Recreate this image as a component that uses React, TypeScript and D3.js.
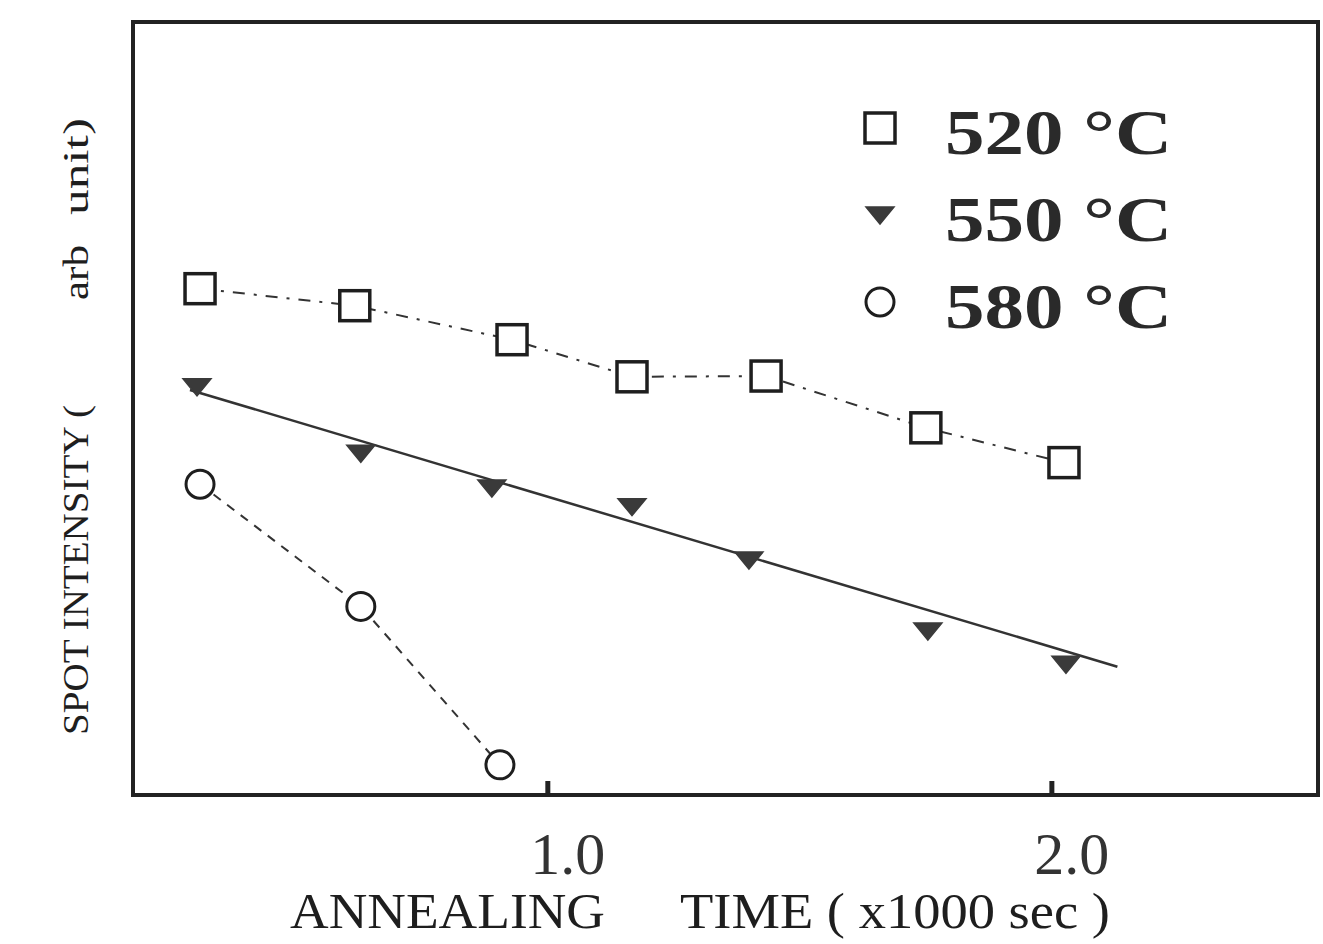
import React from "react";
import { scaleLinear, line } from "d3";

const W = 1323;
const H = 944;
const PLOT = { left: 133, right: 1318, top: 22, bottom: 795 };
const INK = "#1e1e1e";

// annealing time (x1000 sec) and spot intensity (arb. unit)
const t520 = [0.31, 0.617, 0.929, 1.167, 1.433, 1.75, 2.024];
const i520 = [6.55, 6.33, 5.89, 5.41, 5.42, 4.75, 4.3];
const t550 = [0.304, 0.629, 0.889, 1.167, 1.399, 1.754, 2.028];
const i550 = [5.28, 4.42, 3.97, 3.73, 3.04, 2.12, 1.69];
const t580 = [0.31, 0.629, 0.905];
const i580 = [4.02, 2.44, 0.39];
// hand-drawn fit for 550 °C
const fitT550 = [0.29, 2.13];
const fitI550 = [5.24, 1.66];

const xTicks = [1.0, 2.0];
const legendLabels = ["520 °C", "550 °C", "580 °C"];

const x = scaleLinear().domain([0.177, 2.528]).range([PLOT.left, PLOT.right]);
const y = scaleLinear().domain([0, 10]).range([PLOT.bottom, PLOT.top]);

const zip = (a: number[], b: number[]) => a.map((v, i) => [v, b[i]] as [number, number]);
const path = line<[number, number]>()
  .x((d) => x(d[0]))
  .y((d) => y(d[1]));

const Square = ({ cx, cy }: { cx: number; cy: number }) => (
  <rect x={cx - 15} y={cy - 15} width={30} height={30} fill="white" stroke={INK} strokeWidth={3.5} />
);
const Tri = ({ cx, cy }: { cx: number; cy: number }) => (
  <path d={`M${cx - 14},${cy - 8} L${cx + 14},${cy - 8} L${cx},${cy + 9} Z`} fill="#3a3a3a" stroke="#3a3a3a" strokeWidth={1.5} />
);
const Circ = ({ cx, cy }: { cx: number; cy: number }) => (
  <circle cx={cx} cy={cy} r={14} fill="white" stroke={INK} strokeWidth={3} />
);

export default function App() {
  const serif = "'Liberation Serif', 'DejaVu Serif', serif";
  return (
    <svg width={W} height={H} style={{ position: "absolute", left: 0, top: 0, background: "white" }}>
      {/* lines */}
      <path d={path(zip(t520, i520)) || ""} fill="none" stroke="#333" strokeWidth={2} strokeDasharray="12,9,3,9" />
      <path d={path(zip(fitT550, fitI550)) || ""} fill="none" stroke="#333" strokeWidth={2.5} />
      <path d={path(zip(t580, i580)) || ""} fill="none" stroke="#333" strokeWidth={2} strokeDasharray="9,8" />

      {/* markers */}
      {zip(t520, i520).map((d, i) => (
        <Square key={"s" + i} cx={x(d[0])} cy={y(d[1])} />
      ))}
      {zip(t550, i550).map((d, i) => (
        <Tri key={"t" + i} cx={x(d[0])} cy={y(d[1])} />
      ))}
      {zip(t580, i580).map((d, i) => (
        <Circ key={"c" + i} cx={x(d[0])} cy={y(d[1])} />
      ))}

      {/* frame */}
      <rect
        x={PLOT.left}
        y={PLOT.top}
        width={PLOT.right - PLOT.left}
        height={PLOT.bottom - PLOT.top}
        fill="none"
        stroke="#222"
        strokeWidth={4}
      />

      {/* x ticks */}
      {xTicks.map((t) => (
        <g key={t}>
          <line x1={x(t)} x2={x(t)} y1={PLOT.bottom} y2={PLOT.bottom - 14} stroke="#222" strokeWidth={5} />
          <text x={x(t) + 20} y={874} textAnchor="middle" fontFamily={serif} fontSize={60} fill="#333">
            {t.toFixed(1)}
          </text>
        </g>
      ))}

      {/* axis titles */}
      <text x={290} y={928} fontFamily={serif} fontSize={51} fill={INK} textLength={315} lengthAdjust="spacingAndGlyphs">
        ANNEALING
      </text>
      <text x={680} y={928} fontFamily={serif} fontSize={51} fill={INK} textLength={430} lengthAdjust="spacingAndGlyphs">
        TIME ( x1000 sec )
      </text>
      <g transform="translate(88,735) rotate(-90)">
        <text x={0} y={0} fontFamily={serif} fontSize={36} fill={INK} textLength={330} lengthAdjust="spacingAndGlyphs">
          SPOT INTENSITY (
        </text>
        <text x={435} y={0} fontFamily={serif} fontSize={36} fill={INK} textLength={55} lengthAdjust="spacingAndGlyphs">
          arb
        </text>
        <text x={520} y={0} fontFamily={serif} fontSize={36} fill={INK} textLength={97} lengthAdjust="spacingAndGlyphs">
          unit)
        </text>
      </g>

      {/* legend */}
      {legendLabels.map((lab, i) => {
        const cy = 128 + i * 87;
        return (
          <g key={lab}>
            {i === 0 && <Square cx={880} cy={cy} />}
            {i === 1 && <Tri cx={880} cy={cy} />}
            {i === 2 && <Circ cx={880} cy={cy} />}
            <text
              x={945}
              y={cy + 26}
              fontFamily={serif}
              fontWeight="bold"
              fontSize={64}
              fill="#2a2a2a"
              textLength={227}
              lengthAdjust="spacingAndGlyphs"
            >
              {lab}
            </text>
          </g>
        );
      })}
    </svg>
  );
}
